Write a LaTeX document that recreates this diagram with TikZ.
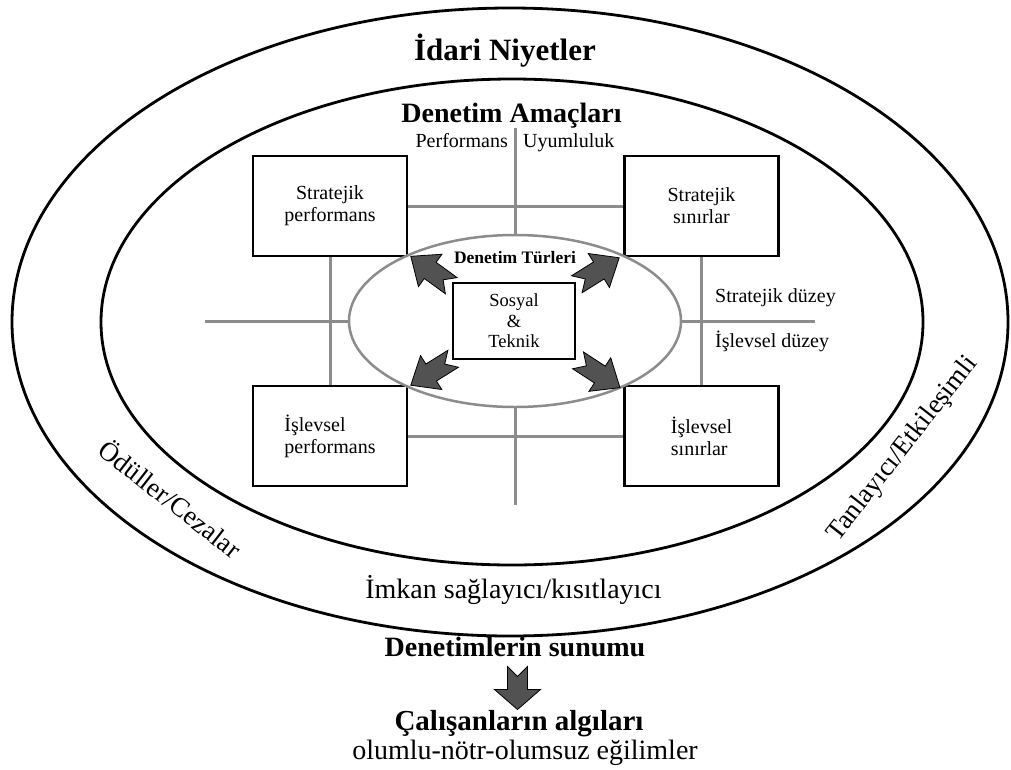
\documentclass[tikz,border=0pt]{standalone}
\usepackage{fontspec}
\setmainfont{Liberation Serif}
\usetikzlibrary{shapes.geometric}
\definecolor{linegray}{HTML}{8C8C8C}
\definecolor{arrowgray}{HTML}{525252}
\newcommand\fsz[2]{\fontsize{#1}{#2}\selectfont}
\tikzset{
  ring/.style={ellipse, draw=black, line width=2.8pt, inner sep=0pt},
  stepbox/.style={draw=black, line width=2.8pt, fill=white, minimum width=154pt,
    minimum height=100pt, inner sep=0pt, font=\fsz{20}{22}},
  grayline/.style={draw=linegray, line width=3pt},
  lbl/.style={inner sep=0pt, anchor=base},
  pics/notcharrow/.style n args={5}{code={
    \filldraw[fill=arrowgray, draw=black, line width=0.8pt, line join=miter]
      (-#1/2,#4) -- (-#1/2+#5,0) -- (-#1/2,-#4) -- (#1/2-#2,-#4) -- (#1/2-#2,-#3)
      -- (#1/2,0) -- (#1/2-#2,#3) -- (#1/2-#2,#4) -- cycle;
  }}
}
\begin{document}
\begin{tikzpicture}[x=1pt,y=-1pt]
\useasboundingbox (0,0) rectangle (1011,769);
\fill[white] (0,0) rectangle (1011,769);

% nested ellipses
\node[ring, minimum width=996pt, minimum height=628pt] (outer) at (510,322) {};
\node[ring, minimum width=822pt, minimum height=486pt] (inner) at (512,322) {};

% four control boxes
\node[stepbox, align=center] (sp) at (330,206) {Stratejik\\performans};
\node[stepbox, align=center] (ss) at (701.5,206) {Stratejik\\sınırlar};
\node[stepbox, align=left] (ip) at (330,436) {İşlevsel\\performans};
\node[stepbox, align=left] (is) at (701.5,436) {İşlevsel\\sınırlar};

% central ellipse of control types
\node[ellipse, draw=linegray, line width=2.5pt, inner sep=0pt,
      minimum width=332pt, minimum height=172pt] (types) at (515,321) {};

% axis lines
\coordinate (topend) at (515,128);
\coordinate (botend) at (515,505);
\coordinate (leftend) at (205,321);
\coordinate (rightend) at (815,321);
\draw[grayline] (sp.east) -- (ss.west);
\draw[grayline] (ip.east) -- (is.west);
\draw[grayline] (sp.south) -- (ip.north);
\draw[grayline] (ss.south) -- (is.north);
\draw[grayline] (topend) -- (types.north);
\draw[grayline] (types.south) -- (botend);
\draw[grayline] (leftend) -- (types.west);
\draw[grayline] (types.east) -- (rightend);

% Sosyal & Teknik box
\node[draw=black, line width=2.5pt, minimum width=122pt, minimum height=76pt,
      inner sep=0pt, align=center, font=\fsz{18.5}{20.5}] (st) at (514,321)
      {Sosyal\\\&\\Teknik};

% diagonal arrows
\pic[rotate=144] at (431,271) {notcharrow={50}{24}{20}{10}{10}};
\pic[rotate=32] at (598,271) {notcharrow={50}{24}{20}{10}{10}};
\pic[rotate=212] at (432,372) {notcharrow={50}{24}{20}{10}{10}};
\pic[rotate=-33] at (599,374) {notcharrow={50}{24}{20}{10}{10}};

% labels
\node[lbl, font=\fsz{31}{34}\bfseries] (intent) at (505,60) {İdari Niyetler};
\node[lbl, font=\fsz{28}{32}\bfseries] (aims) at (511.5,122) {Denetim Amaçları};
\node[lbl, anchor=base east, font=\fsz{20}{22}] (perf) at (508,147) {Performans};
\node[lbl, anchor=base west, font=\fsz{20}{22}] (comp) at (523,147) {Uyumluluk};
\node[lbl, font=\fsz{17.5}{20}\bfseries] (ttl) at (515,263) {Denetim Türleri};
\node[lbl, anchor=base west, font=\fsz{20}{22}] (strat) at (715,302) {Stratejik düzey};
\node[lbl, anchor=base west, font=\fsz{20}{22}] (func) at (715,347) {İşlevsel düzey};
\node[inner sep=0pt, rotate=-38, font=\fsz{27}{30}] (reward) at (171,498) {Ödüller/Cezalar};
\node[inner sep=0pt, rotate=52, font=\fsz{27}{30}] (diag) at (903,449) {Tanlayıcı/Etkileşimli};
\node[lbl, font=\fsz{28}{32}] (enable) at (513.5,598) {İmkan sağlayıcı/kısıtlayıcı};
\node[lbl, font=\fsz{28}{32}\bfseries] (sunum) at (515,656) {Denetimlerin sunumu};
\node[lbl, font=\fsz{29}{32}\bfseries] (algi) at (519,730) {Çalışanların algıları};
\node[lbl, font=\fsz{28}{32}] (egilim) at (525,759) {olumlu-nötr-olumsuz eğilimler};

% presentation leads to perception
\pic[rotate=-90] at (517.5,688) {notcharrow={43}{20}{23}{10}{10}};
\end{tikzpicture}
\end{document}
